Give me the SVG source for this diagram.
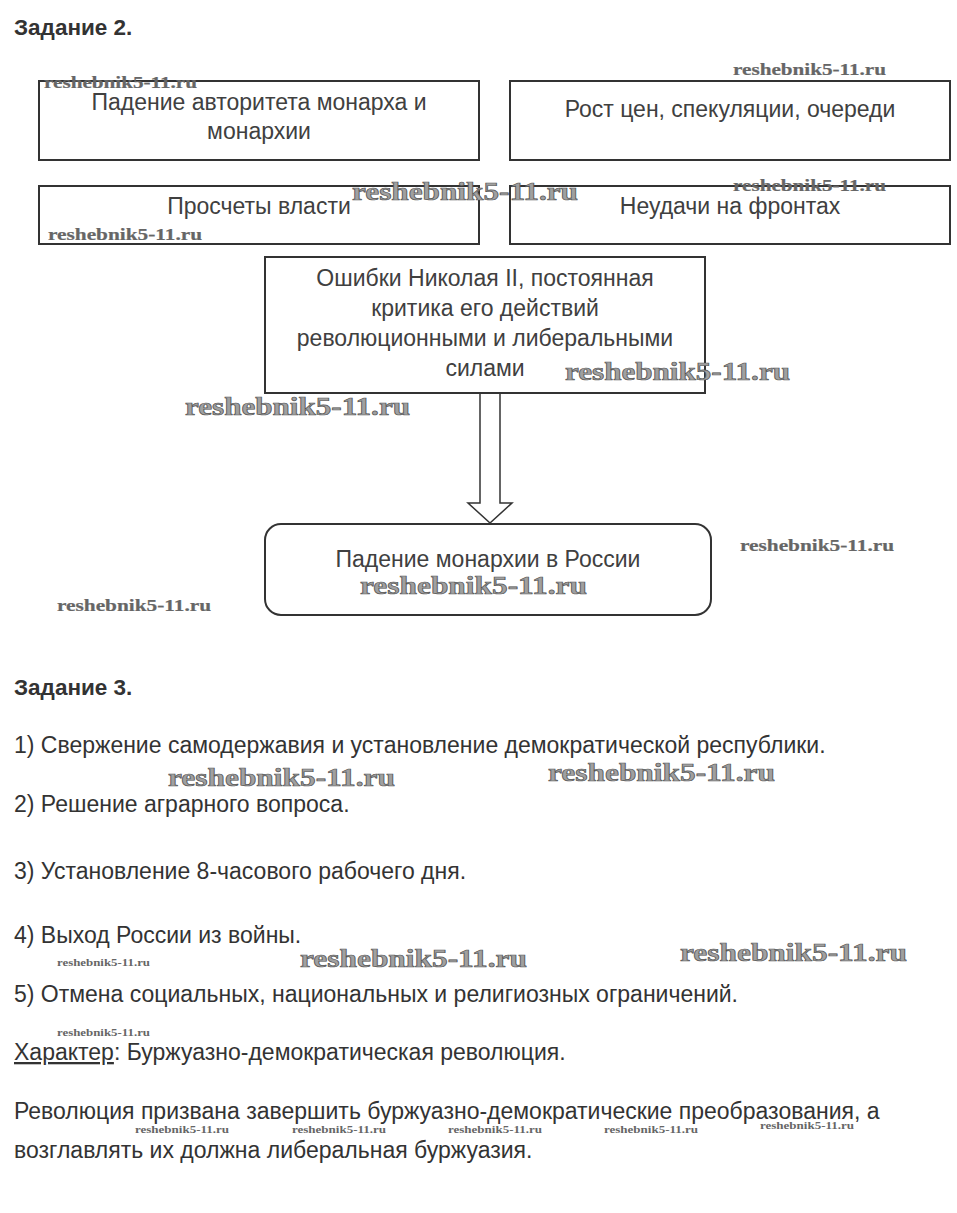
<svg xmlns="http://www.w3.org/2000/svg" width="957" height="1213" viewBox="0 0 957 1213">
<style>
.bg{fill:#fff}
.box{fill:#fff;stroke:#333;stroke-width:2}
.h{font-family:"Liberation Sans",Arial,sans-serif;font-weight:bold;font-size:22.5px;fill:#333}
.bt{font-family:"Liberation Sans",Arial,sans-serif;font-size:23px;fill:#404040;text-anchor:middle}
.t{font-family:"Liberation Sans",Arial,sans-serif;font-size:23px;fill:#333}
.wl{font-family:"Liberation Serif","Times New Roman",serif;font-weight:bold;font-size:25px;fill:#a0a0a0;stroke:#555;stroke-width:0.7}
.ws{font-family:"Liberation Serif","Times New Roman",serif;font-weight:bold;font-size:16px;fill:#666;stroke:#666;stroke-width:0.2}
.wt{font-family:"Liberation Serif","Times New Roman",serif;font-weight:bold;font-size:10px;fill:#666}
</style>
<rect class="bg" x="0" y="0" width="957" height="1213"/>
<text class="h" x="14" y="35">Задание 2.</text>
<g id="n1"><rect class="box" x="39" y="81" width="440" height="79"/><text class="bt" x="259" y="110">Падение авторитета монарха и</text><text class="bt" x="259" y="139">монархии</text></g>
<g id="n2"><rect class="box" x="510" y="81" width="440" height="79"/><text class="bt" x="730" y="117">Рост цен, спекуляции, очереди</text></g>
<g id="n3"><rect class="box" x="39" y="186" width="440" height="58"/><text class="bt" x="259" y="214">Просчеты власти</text></g>
<g id="n4"><rect class="box" x="510" y="186" width="440" height="58"/><text class="bt" x="730" y="214">Неудачи на фронтах</text></g>
<g id="n5"><rect class="box" x="265" y="257" width="440" height="136"/>
<text class="bt" x="485" y="286">Ошибки Николая II, постоянная</text>
<text class="bt" x="485" y="316">критика его действий</text>
<text class="bt" x="485" y="346">революционными и либеральными</text>
<text class="bt" x="485" y="376">силами</text></g>
<g id="connectors"><path d="M480 394 V503 H468 L490 523 L512 503 H500 V394" fill="#fff" stroke="#333" stroke-width="1.5" stroke-linejoin="miter"/></g>
<g id="n6"><rect class="box" x="265" y="524" width="446" height="91" rx="16" ry="16"/><text class="bt" x="488" y="567">Падение монархии в России</text></g>
<text class="h" x="14" y="695">Задание 3.</text>
<text class="t" x="14" y="753">1) Свержение самодержавия и установление демократической республики.</text>
<text class="t" x="14" y="812">2) Решение аграрного вопроса.</text>
<text class="t" x="14" y="879">3) Установление 8-часового рабочего дня.</text>
<text class="t" x="14" y="943">4) Выход России из войны.</text>
<text class="t" x="14" y="1002">5) Отмена социальных, национальных и религиозных ограничений.</text>
<text class="t" x="14" y="1060"><tspan text-decoration="underline">Характер</tspan>: Буржуазно-демократическая революция.</text>
<text class="t" x="14" y="1119">Революция призвана завершить буржуазно-демократические преобразования, а</text>
<text class="t" x="14" y="1158">возглавлять их должна либеральная буржуазия.</text>
<g id="watermarks">
<text class="ws" x="44" y="88" textLength="153" lengthAdjust="spacingAndGlyphs">reshebnik5-11.ru</text>
<text class="ws" x="733" y="75" textLength="153" lengthAdjust="spacingAndGlyphs">reshebnik5-11.ru</text>
<text class="wl" x="352" y="200" textLength="226" lengthAdjust="spacingAndGlyphs">reshebnik5-11.ru</text>
<text class="ws" x="733" y="191" textLength="153" lengthAdjust="spacingAndGlyphs">reshebnik5-11.ru</text>
<text class="ws" x="48" y="240" textLength="154" lengthAdjust="spacingAndGlyphs">reshebnik5-11.ru</text>
<text class="wl" x="565" y="380" textLength="225" lengthAdjust="spacingAndGlyphs">reshebnik5-11.ru</text>
<text class="wl" x="185" y="415" textLength="225" lengthAdjust="spacingAndGlyphs">reshebnik5-11.ru</text>
<text class="ws" x="740" y="551" textLength="154" lengthAdjust="spacingAndGlyphs">reshebnik5-11.ru</text>
<text class="wl" x="360" y="594" textLength="227" lengthAdjust="spacingAndGlyphs">reshebnik5-11.ru</text>
<text class="ws" x="57" y="611" textLength="154" lengthAdjust="spacingAndGlyphs">reshebnik5-11.ru</text>
<text class="wl" x="168" y="786" textLength="227" lengthAdjust="spacingAndGlyphs">reshebnik5-11.ru</text>
<text class="wl" x="548" y="781" textLength="227" lengthAdjust="spacingAndGlyphs">reshebnik5-11.ru</text>
<text class="wt" x="57" y="966" textLength="93" lengthAdjust="spacingAndGlyphs">reshebnik5-11.ru</text>
<text class="wl" x="300" y="967" textLength="227" lengthAdjust="spacingAndGlyphs">reshebnik5-11.ru</text>
<text class="wl" x="680" y="961" textLength="227" lengthAdjust="spacingAndGlyphs">reshebnik5-11.ru</text>
<text class="wt" x="57" y="1036" textLength="93" lengthAdjust="spacingAndGlyphs">reshebnik5-11.ru</text>
<text class="wt" x="135" y="1133" textLength="94" lengthAdjust="spacingAndGlyphs">reshebnik5-11.ru</text>
<text class="wt" x="292" y="1133" textLength="94" lengthAdjust="spacingAndGlyphs">reshebnik5-11.ru</text>
<text class="wt" x="448" y="1133" textLength="94" lengthAdjust="spacingAndGlyphs">reshebnik5-11.ru</text>
<text class="wt" x="604" y="1133" textLength="94" lengthAdjust="spacingAndGlyphs">reshebnik5-11.ru</text>
<text class="wt" x="760" y="1129" textLength="94" lengthAdjust="spacingAndGlyphs">reshebnik5-11.ru</text>
</g>
</svg>
